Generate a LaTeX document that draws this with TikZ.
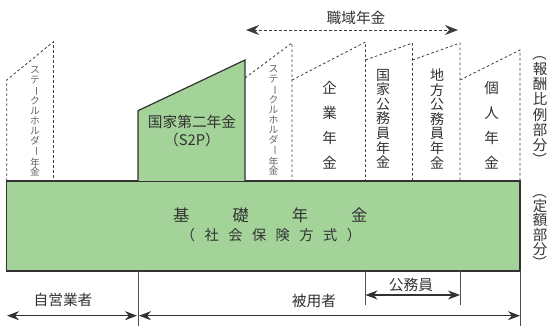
\documentclass[tikz,border=0pt]{standalone}
\usepackage{fontspec}
\newfontfamily\jp{Noto Sans CJK JP}
\usetikzlibrary{arrows.meta}
\definecolor{pgreen}{RGB}{163,211,152}
\definecolor{ink}{RGB}{50,50,50}
\definecolor{dashc}{RGB}{60,60,60}
\definecolor{shgray}{RGB}{100,100,100}
\newcommand{\vbarch}{\rotatebox[origin=c]{-90}{ー}}
\newcommand{\vopen}{\rotatebox[origin=c]{-90}{（}}
\newcommand{\vclose}{\rotatebox[origin=c]{-90}{）}}
\tikzset{
  solidline/.style={draw=ink, line width=1.2pt, line join=miter},
  dashline/.style={draw=dashc, line width=0.8pt, dash pattern=on 2.6pt off 2.4pt},
  thinline/.style={draw=ink!85, line width=0.8pt},
  dblarrow/.style={draw=ink, line width=1.1pt, {Stealth[length=12pt,width=9pt]}-{Stealth[length=12pt,width=9pt]}},
  toparrow/.style={draw=dashc, line width=0.9pt, dash pattern=on 2.6pt off 2.4pt, {Stealth[length=13pt,width=10pt]}-{Stealth[length=13pt,width=10pt]}},
  lbl/.style={font=\jp\fontsize{14.7}{17}\selectfont, text=ink, inner sep=0pt},
  vsh/.style={font=\jp\fontsize{9.8}{9.8}\selectfont, text=shgray, align=center, inner sep=0pt},
  vwide/.style={font=\jp\fontsize{14.5}{25}\selectfont, text=ink, align=center, inner sep=0pt},
  vtight/.style={font=\jp\fontsize{14}{14.6}\selectfont, text=ink, align=center, inner sep=0pt},
  vside/.style={font=\jp\fontsize{14.5}{#1}\selectfont, text=ink, align=center, inner sep=0pt},
}
\begin{document}
\begin{tikzpicture}[x=1pt,y=-1pt]
\useasboundingbox (0,0) rectangle (552,326);

% base rectangle
\path[fill=pgreen, solidline] (6.7,181) rectangle (520,271);
% S2P shape
\path[fill=pgreen, solidline] (138,181) -- (138,110.7) -- (245,60) -- (245,181);

% dashed columns
\draw[dashline] (6.7,181) -- (6.7,80) -- (53.5,41.7) -- (53.5,181);
\draw[dashline] (245,78) -- (292,43) -- (292,181);
\draw[dashline] (292,80) -- (365.5,42) -- (365.5,181);
\draw[dashline] (365.5,60) -- (412.5,43) -- (412.5,181);
\draw[dashline] (412.5,60) -- (460,43) -- (460,181);
\draw[dashline] (460,80) -- (520,50) -- (520,181);

% top arrow
\coordinate (tl) at (246,30);
\coordinate (tr) at (458,30);
\draw[toparrow] (tl) -- (tr);
\node[lbl] (shokuiki) at (356,18) {職域年金};

% texts in columns
\node[vsh] (sh1) at (35,121.5) {ス\\テ\\\vbarch\\ク\\ル\\ホ\\ル\\ダ\\\vbarch\\年\\金};
\node[vsh] (sh2) at (273.5,120.5) {ス\\テ\\\vbarch\\ク\\ル\\ホ\\ル\\ダ\\\vbarch\\年\\金};
\node[lbl, align=center, font=\jp\fontsize{14.7}{18.5}\selectfont] (s2p) at (192,131) {国家第二年金\\（S2P）};
\node[vwide] (kigyo) at (329.5,125.5) {企\\業\\年\\金};
\node[vtight] (kokka) at (383,118.7) {国\\家\\公\\務\\員\\年\\金};
\node[vtight] (chiho) at (437,118.7) {地\\方\\公\\務\\員\\年\\金};
\node[vwide] (kojin) at (491.5,125) {個\\人\\年\\金};

% side labels
\node[vside=15.2] (hoshu) at (540,107) {\vopen\\報\\酬\\比\\例\\部\\分\\\vclose};
\node[vside=14.2] (teigaku) at (540,227.5) {\vopen\\定\\額\\部\\分\\\vclose};

% base texts
\node[lbl, font=\jp\fontsize{16.3}{18}\selectfont] (kiso) at (270.3,215) {基\hspace{43pt}礎\hspace{43pt}年\hspace{43pt}金};
\node[lbl, font=\jp\fontsize{14.2}{16}\selectfont] (shakai) at (271,235) {（\hspace{9.5pt}社\hspace{9.5pt}会\hspace{9.5pt}保\hspace{9.5pt}険\hspace{9.5pt}方\hspace{9.5pt}式\hspace{9.5pt}）};

% bottom dividers
\draw[thinline] (138,271) -- (138,326);
\draw[thinline] (520,271) -- (520,326);
\draw[thinline] (365.5,271) -- (365.5,305);
\draw[thinline] (460,271) -- (460,305);

% bottom arrows
\coordinate (a1) at (7,315.7);
\coordinate (a2) at (137,315.7);
\coordinate (a3) at (139,315.7);
\coordinate (a4) at (520,315.7);
\coordinate (k1) at (365.5,295);
\coordinate (k2) at (460,295);
\draw[dblarrow] (a1) -- (a2);
\draw[dblarrow] (a3) -- (a4);
\draw[dblarrow] (k1) -- (k2);

\node[lbl] (jiei) at (63,300) {自営業者};
\node[lbl] (hiyo) at (314,301) {被用者};
\node[lbl] (komu) at (411,285) {公務員};
\end{tikzpicture}
\end{document}
